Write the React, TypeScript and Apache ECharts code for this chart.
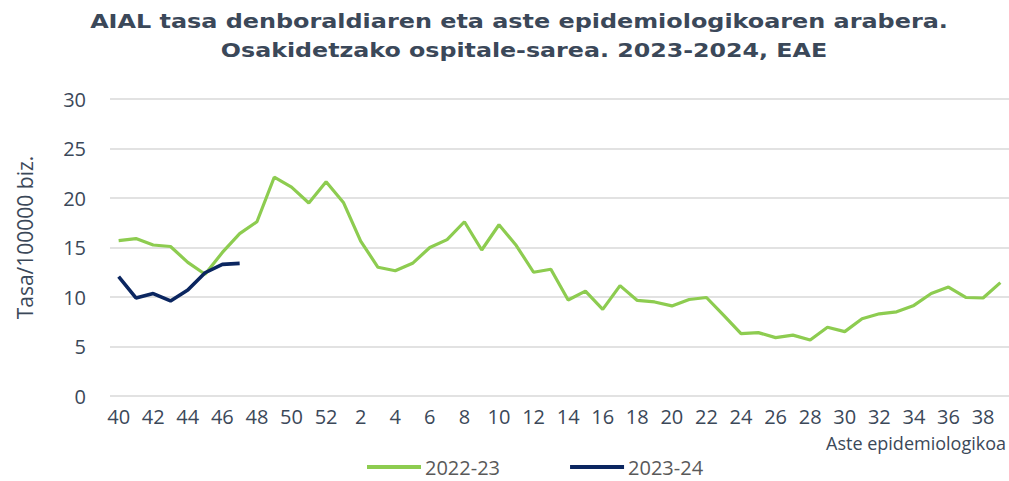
import React, { useEffect, useRef } from "react";
import * as echarts from "echarts";

const weeks: string[] = [
  "40", "41", "42", "43", "44", "45", "46", "47", "48", "49", "50", "51", "52",
  "1", "2", "3", "4", "5", "6", "7", "8", "9", "10", "11", "12", "13", "14", "15",
  "16", "17", "18", "19", "20", "21", "22", "23", "24", "25", "26", "27", "28", "29",
  "30", "31", "32", "33", "34", "35", "36", "37", "38", "39",
];

const season2022: number[] = [
  15.7, 15.9, 15.25, 15.1, 13.5, 12.3, 14.5, 16.4, 17.6, 22.1, 21.1, 19.5, 21.65,
  19.55, 15.65, 13.0, 12.65, 13.4, 15.0, 15.8, 17.6, 14.75, 17.3, 15.2, 12.5, 12.8,
  9.7, 10.6, 8.75, 11.15, 9.65, 9.5, 9.1, 9.75, 9.95, 8.15, 6.3, 6.4, 5.9, 6.15,
  5.65, 6.95, 6.5, 7.8, 8.3, 8.5, 9.15, 10.35, 11.0, 9.95, 9.9, 11.45,
];

const season2023: number[] = [12.05, 9.9, 10.35, 9.6, 10.7, 12.45, 13.3, 13.4];

const seriesNames: string[] = ["2022-23", "2023-24"];

const titleLines: string[] = [
  "AIAL tasa denboraldiaren eta aste epidemiologikoaren arabera.",
  "Osakidetzako ospitale-sarea. 2023-2024, EAE",
];

const yAxisName = "Tasa/100000 biz.";
const xAxisName = "Aste epidemiologikoa";

const TEXT = "#3b4859";
const LEGEND_TEXT = "#595959";
const FONT = "'Open Sans', sans-serif";
const TITLE_FONT = "'DejaVu Sans', sans-serif";

export default function App() {
  const ref = useRef<HTMLDivElement>(null);
  useEffect(() => {
    if (!ref.current) return;
    const chart = echarts.init(ref.current, null, { renderer: "svg" });
    const titleStyle = (text: string) => ({
      text,
      fontFamily: TITLE_FONT,
      fontWeight: "bold",
      fontSize: 20,
      fill: TEXT,
      textAlign: "center",
      textVerticalAlign: "middle",
    });
    chart.setOption({
      animation: false,
      backgroundColor: "#ffffff",
      legend: {
        data: seriesNames,
        left: 362,
        top: 452,
        icon: "rect",
        itemWidth: 54,
        itemHeight: 4,
        itemGap: 70,
        textStyle: {
          fontFamily: FONT,
          fontSize: 20,
          lineHeight: 20,
          color: LEGEND_TEXT,
          padding: [0, 0, 0, -1],
        },
      },
      grid: { left: 110, top: 99, width: 901, height: 297, containLabel: false },
      xAxis: {
        type: "category",
        data: weeks,
        boundaryGap: true,
        axisLine: { show: false },
        axisTick: { show: false },
        axisLabel: {
          interval: 1,
          margin: 10.5,
          fontFamily: FONT,
          fontSize: 20,
          lineHeight: 20,
          color: TEXT,
        },
      },
      yAxis: {
        type: "value",
        min: 0,
        max: 30,
        interval: 5,
        axisLine: { show: false },
        axisTick: { show: false },
        axisLabel: { margin: 24, fontFamily: FONT, fontSize: 20, color: TEXT },
        splitLine: { lineStyle: { color: "#d9d9d9", width: 1.5 } },
      },
      graphic: [
        {
          type: "text",
          x: 519,
          y: 21,
          scaleX: 1.195,
          style: titleStyle(titleLines[0]),
        },
        {
          type: "text",
          x: 524,
          y: 50,
          scaleX: 1.187,
          style: titleStyle(titleLines[1]),
        },
        {
          type: "text",
          x: 25,
          y: 237.5,
          rotation: Math.PI / 2,
          style: {
            text: yAxisName,
            fontFamily: FONT,
            fontSize: 21,
            fill: TEXT,
            textAlign: "center",
            textVerticalAlign: "middle",
          },
        },
        {
          type: "text",
          right: 3,
          top: 433.5,
          style: {
            text: xAxisName,
            fontFamily: FONT,
            fontSize: 18,
            lineHeight: 18,
            fill: TEXT,
          },
        },
      ],
      series: [
        {
          name: seriesNames[0],
          type: "line",
          data: season2022,
          symbol: "none",
          lineStyle: { color: "#8dcc50", width: 3.2 },
          itemStyle: { color: "#8dcc50" },
          z: 2,
        },
        {
          name: seriesNames[1],
          type: "line",
          data: season2023,
          symbol: "none",
          lineStyle: { color: "#0b2660", width: 3.6 },
          itemStyle: { color: "#0b2660" },
          z: 3,
        },
      ],
    });
    return () => chart.dispose();
  }, []);
  return (
    <div
      ref={ref}
      style={{ position: "absolute", left: 0, top: 0, width: 1009, height: 481 }}
    />
  );
}
